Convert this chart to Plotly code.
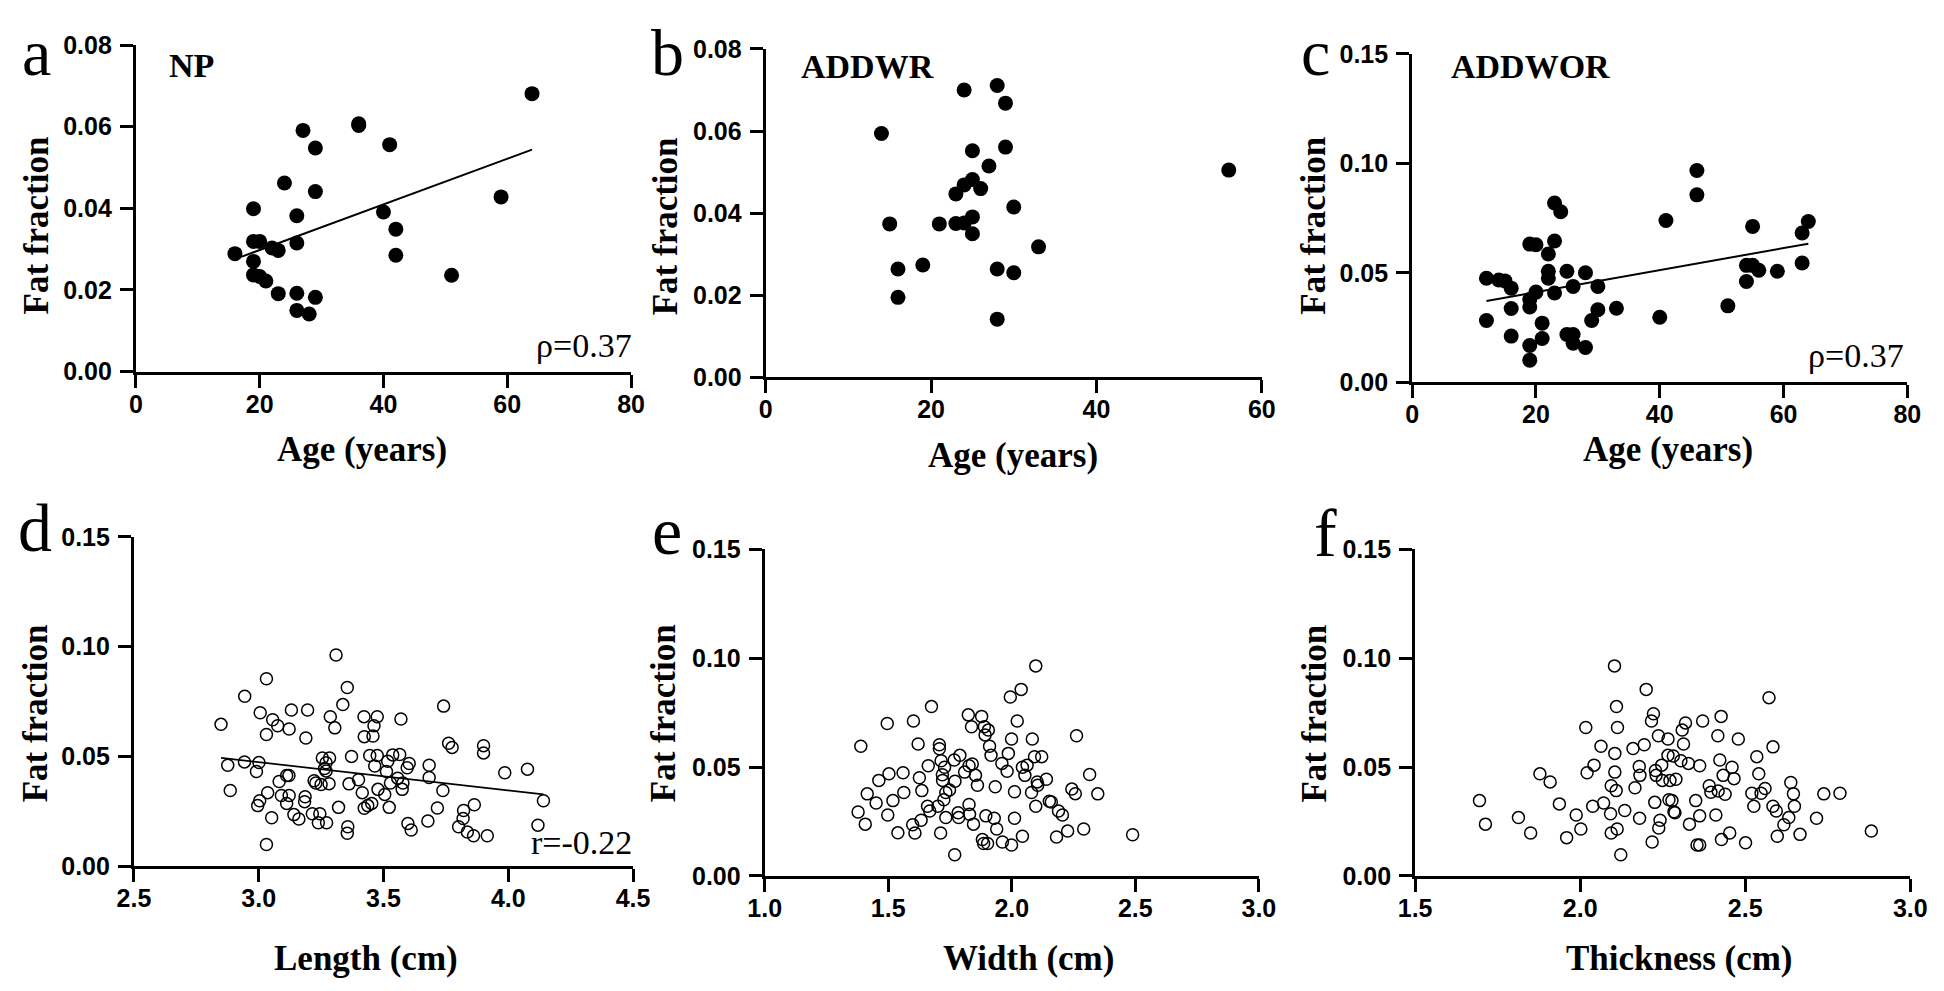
import plotly.graph_objects as go

# ---------------- data ----------------
# (a) NP
age_np = [16, 19, 19, 20, 19, 19, 20, 21, 22, 23,
          23, 24, 26, 26, 26, 26, 27, 28, 29, 29,
          29, 36, 36, 40, 41, 42, 42, 51, 59, 64]
ff_np = [0.0289, 0.0399, 0.0319, 0.0319, 0.0270, 0.0237, 0.0233, 0.0222, 0.0303, 0.0297,
         0.0191, 0.0462, 0.0382, 0.0315, 0.0192, 0.0150, 0.0591, 0.0141, 0.0548, 0.0441,
         0.0182, 0.0603, 0.0607, 0.0391, 0.0556, 0.0349, 0.0285, 0.0236, 0.0428, 0.0681]
fit_np_x = [17, 64]
fit_np_y = [0.0281, 0.0544]

# (b) ADDWR
age_addwr = [14, 15, 16, 16, 19, 21, 23, 23, 24, 24,
             24, 25, 25, 25, 25, 26, 27, 28, 28, 28,
             29, 29, 30, 30, 33, 56]
ff_addwr = [0.0594, 0.0374, 0.0264, 0.0195, 0.0274, 0.0374, 0.0447, 0.0375, 0.0700, 0.0469,
            0.0376, 0.0391, 0.0350, 0.0552, 0.0482, 0.0460, 0.0515, 0.0711, 0.0264, 0.0142,
            0.0668, 0.0561, 0.0415, 0.0255, 0.0318, 0.0505]

# (c) ADDWOR
age_addwor = [12, 12, 14, 15, 16, 16, 16, 19, 19, 19,
              19, 19, 20, 20, 21, 21, 22, 22, 22, 23,
              23, 23, 24, 25, 25, 26, 26, 26, 28, 28,
              29, 30, 30, 33, 40, 41, 46, 46, 51, 54,
              54, 55, 55, 56, 59, 63, 63, 64]
ff_addwor = [0.0475, 0.0282, 0.0467, 0.0463, 0.0430, 0.0337, 0.0211, 0.0631, 0.0378, 0.0344,
             0.0168, 0.0101, 0.0628, 0.0412, 0.0270, 0.0200, 0.0586, 0.0507, 0.0475, 0.0819,
             0.0645, 0.0408, 0.0779, 0.0507, 0.0218, 0.0438, 0.0218, 0.0178, 0.0500, 0.0159,
             0.0282, 0.0438, 0.0331, 0.0338, 0.0297, 0.0739, 0.0967, 0.0856, 0.0349, 0.0460,
             0.0534, 0.0712, 0.0534, 0.0512, 0.0507, 0.0545, 0.0682, 0.0734]
fit_addwor_x = [12, 64]
fit_addwor_y = [0.0371, 0.0633]

# (d) Length
length_cm = [2.849, 2.876, 2.886, 2.944, 2.943, 2.991, 3.006, 3.001, 2.996, 3.004,
             3.031, 3.031, 3.036, 3.052, 3.056, 3.076, 3.082, 3.091, 3.112, 3.121,
             3.112, 3.122, 3.122, 3.131, 3.141, 3.161, 3.189, 3.186, 3.184, 3.196,
             3.031, 3.215, 3.222, 3.229, 3.239, 3.245, 3.250, 3.255, 3.264, 3.270,
             3.270, 3.272, 3.282, 3.284, 3.287, 3.305, 3.310, 3.320, 3.337, 3.355,
             3.357, 3.355, 3.362, 3.372, 3.400, 3.415, 3.422, 3.423, 3.423, 3.437,
             3.445, 3.453, 3.458, 3.462, 3.465, 3.475, 3.475, 3.478, 3.505, 3.512,
             3.517, 3.523, 3.528, 3.537, 3.557, 3.565, 3.570, 3.575, 3.578, 3.595,
             3.603, 3.598, 3.611, 3.678, 3.683, 3.683, 3.716, 3.738, 3.741, 3.761,
             3.775, 3.801, 3.819, 3.821, 3.836, 3.861, 3.864, 3.901, 3.901, 3.916,
             3.986, 4.077, 4.119, 4.141]
ff_length = [0.0646, 0.0460, 0.0345, 0.0774, 0.0475, 0.0431, 0.0699, 0.0472, 0.0276, 0.0298,
             0.0854, 0.0600, 0.0335, 0.0221, 0.0667, 0.0640, 0.0386, 0.0322, 0.0413, 0.0413,
             0.0286, 0.0322, 0.0625, 0.0711, 0.0235, 0.0215, 0.0584, 0.0316, 0.0294, 0.0711,
             0.0099, 0.0239, 0.0389, 0.0379, 0.0198, 0.0239, 0.0372, 0.0493, 0.0445, 0.0471,
             0.0434, 0.0198, 0.0376, 0.0493, 0.0681, 0.0630, 0.0962, 0.0268, 0.0736, 0.0814,
             0.0180, 0.0150, 0.0375, 0.0500, 0.0394, 0.0335, 0.0681, 0.0590, 0.0264, 0.0276,
             0.0504, 0.0286, 0.0593, 0.0640, 0.0456, 0.0681, 0.0504, 0.0350, 0.0327, 0.0431,
             0.0478, 0.0268, 0.0379, 0.0507, 0.0401, 0.0509, 0.0670, 0.0350, 0.0379, 0.0448,
             0.0468, 0.0195, 0.0165, 0.0206, 0.0460, 0.0404, 0.0265, 0.0345, 0.0729, 0.0560,
             0.0541, 0.0180, 0.0217, 0.0254, 0.0156, 0.0139, 0.0280, 0.0549, 0.0516, 0.0139,
             0.0426, 0.0442, 0.0187, 0.0298]
fit_length_x = [2.849, 4.141]
fit_length_y = [0.0493, 0.0327]

# (e) Width
width_cm = [1.389, 1.407, 1.378, 1.415, 1.451, 1.462, 1.496, 1.503, 1.498, 1.519,
            1.539, 1.560, 1.563, 1.599, 1.602, 1.608, 1.621, 1.626, 1.633, 1.636,
            1.659, 1.662, 1.668, 1.675, 1.701, 1.707, 1.707, 1.712, 1.714, 1.719,
            1.720, 1.725, 1.728, 1.733, 1.733, 1.748, 1.767, 1.770, 1.769, 1.783,
            1.785, 1.790, 1.809, 1.824, 1.827, 1.827, 1.829, 1.837, 1.840, 1.845,
            1.853, 1.861, 1.878, 1.881, 1.886, 1.889, 1.892, 1.895, 1.905, 1.910,
            1.916, 1.902, 1.929, 1.933, 1.939, 1.960, 1.962, 1.981, 1.986, 1.994,
            1.999, 1.999, 2.011, 2.011, 2.022, 2.043, 2.038, 2.043, 2.053, 2.062,
            2.080, 2.083, 2.092, 2.097, 2.097, 2.103, 2.105, 2.121, 2.140, 2.152,
            2.160, 2.181, 2.189, 2.205, 2.226, 2.243, 2.257, 2.262, 2.291, 2.315,
            2.348, 2.489]
ff_width = [0.0596, 0.0238, 0.0294, 0.0377, 0.0335, 0.0439, 0.0700, 0.0469, 0.0280, 0.0346,
            0.0198, 0.0474, 0.0383, 0.0235, 0.0712, 0.0197, 0.0606, 0.0451, 0.0256, 0.0392,
            0.0320, 0.0506, 0.0298, 0.0778, 0.0320, 0.0603, 0.0584, 0.0197, 0.0529, 0.0465,
            0.0439, 0.0350, 0.0499, 0.0383, 0.0268, 0.0395, 0.0533, 0.0435, 0.0097, 0.0290,
            0.0268, 0.0554, 0.0477, 0.0740, 0.0506, 0.0328, 0.0283, 0.0685, 0.0514, 0.0238,
            0.0462, 0.0417, 0.0733, 0.0167, 0.0149, 0.0685, 0.0648, 0.0276, 0.0670, 0.0596,
            0.0554, 0.0149, 0.0265, 0.0410, 0.0216, 0.0517, 0.0156, 0.0481, 0.0563, 0.0822,
            0.0142, 0.0629, 0.0387, 0.0265, 0.0712, 0.0182, 0.0857, 0.0499, 0.0462, 0.0509,
            0.0383, 0.0629, 0.0548, 0.0965, 0.0320, 0.0432, 0.0417, 0.0548, 0.0444, 0.0343,
            0.0340, 0.0179, 0.0298, 0.0280, 0.0206, 0.0399, 0.0378, 0.0644, 0.0216, 0.0466,
            0.0377, 0.0189]

# (f) Thickness
thick_cm = [1.695, 1.713, 1.813, 1.850, 1.878, 1.909, 1.937, 1.959, 1.988, 2.002,
            2.017, 2.021, 2.038, 2.042, 2.063, 2.071, 2.092, 2.094, 2.094, 2.104,
            2.105, 2.105, 2.109, 2.110, 2.112, 2.113, 2.123, 2.135, 2.160, 2.166,
            2.179, 2.180, 2.181, 2.194, 2.200, 2.216, 2.218, 2.222, 2.226, 2.228,
            2.230, 2.237, 2.238, 2.242, 2.247, 2.249, 2.266, 2.266, 2.269, 2.272,
            2.278, 2.282, 2.284, 2.287, 2.290, 2.305, 2.309, 2.313, 2.319, 2.328,
            2.331, 2.350, 2.354, 2.362, 2.362, 2.362, 2.371, 2.391, 2.396, 2.411,
            2.417, 2.418, 2.423, 2.427, 2.428, 2.433, 2.439, 2.453, 2.460, 2.466,
            2.479, 2.501, 2.520, 2.526, 2.535, 2.541, 2.548, 2.560, 2.572, 2.584,
            2.584, 2.594, 2.597, 2.617, 2.632, 2.638, 2.646, 2.649, 2.666, 2.716,
            2.738, 2.787, 2.882]
ff_thick = [0.0346, 0.0238, 0.0268, 0.0197, 0.0469, 0.0432, 0.0331, 0.0176, 0.0280, 0.0216,
            0.0682, 0.0474, 0.0320, 0.0509, 0.0596, 0.0335, 0.0286, 0.0414, 0.0197, 0.0965,
            0.0563, 0.0477, 0.0392, 0.0778, 0.0216, 0.0682, 0.0097, 0.0301, 0.0585, 0.0405,
            0.0503, 0.0265, 0.0462, 0.0603, 0.0857, 0.0712, 0.0156, 0.0745, 0.0338, 0.0484,
            0.0462, 0.0644, 0.0220, 0.0256, 0.0509, 0.0439, 0.0629, 0.0554, 0.0350, 0.0439,
            0.0346, 0.0551, 0.0295, 0.0290, 0.0444, 0.0529, 0.0670, 0.0606, 0.0703, 0.0517,
            0.0238, 0.0346, 0.0142, 0.0142, 0.0276, 0.0506, 0.0712, 0.0414, 0.0384, 0.0280,
            0.0644, 0.0390, 0.0533, 0.0733, 0.0167, 0.0462, 0.0375, 0.0197, 0.0499, 0.0447,
            0.0629, 0.0152, 0.0380, 0.0320, 0.0548, 0.0469, 0.0380, 0.0402, 0.0819, 0.0320,
            0.0593, 0.0298, 0.0182, 0.0235, 0.0268, 0.0429, 0.0377, 0.0320, 0.0191, 0.0265,
            0.0377, 0.0380, 0.0206]

# tick values
ff_ticks_small = [0.00, 0.02, 0.04, 0.06, 0.08]
ff_ticks_large = [0.00, 0.05, 0.10, 0.15]
age_ticks_80 = [0, 20, 40, 60, 80]
age_ticks_60 = [0, 20, 40, 60]
length_ticks = [2.5, 3.0, 3.5, 4.0, 4.5]
width_ticks = [1.0, 1.5, 2.0, 2.5, 3.0]
thick_ticks = [1.5, 2.0, 2.5, 3.0]

# ---------------- figure ----------------
W, H = 1944, 991


def px_x(p):
    return p / W


def px_y(p):
    return 1 - p / H


TICKFONT = dict(family="Liberation Sans", size=25, color="black", weight="bold")


def make_axis(dom, rng, vals, fmt, anchor, standoff):
    return dict(domain=dom, range=rng, tickmode="array", tickvals=vals,
                ticktext=[format(v, fmt) for v in vals],
                showline=True, linewidth=3, linecolor="black",
                ticks="outside", ticklen=13, tickwidth=3, tickcolor="black",
                ticklabelstandoff=standoff,
                showgrid=False, zeroline=False, tickfont=TICKFONT,
                anchor=anchor, fixedrange=True)


# pixel boxes (left, right, top, bottom)
boxes = {
    1: (121, 625, 32, 368),
    2: (762, 1267, 36, 374),
    3: (1420, 1924, 41, 379),
    4: (119, 627, 538, 877),
    5: (761, 1264, 551, 887),
    6: (1423, 1927, 551, 887),
}
xspec = {1: ([0, 80], age_ticks_80, "d"), 2: ([0, 60], age_ticks_60, "d"),
         3: ([0, 80], age_ticks_80, "d"), 4: ([2.5, 4.5], length_ticks, ".1f"),
         5: ([1.0, 3.0], width_ticks, ".1f"), 6: ([1.5, 3.0], thick_ticks, ".1f")}
yspec = {1: ([0, 0.08], ff_ticks_small), 2: ([0, 0.08], ff_ticks_small),
         3: ([0, 0.15], ff_ticks_large), 4: ([0, 0.15], ff_ticks_large),
         5: ([0, 0.15], ff_ticks_large), 6: ([0, 0.15], ff_ticks_large)}

fig = go.Figure()
layout = dict(width=W, height=H, margin=dict(l=0, r=0, t=0, b=0),
              paper_bgcolor="white", plot_bgcolor="white", showlegend=False)
for i in range(1, 7):
    l, r, t, b = boxes[i]
    sx = "" if i == 1 else str(i)
    xr, xv, xf = xspec[i]
    yr, yv = yspec[i]
    layout["xaxis" + sx] = make_axis([px_x(l), px_x(r)], xr, xv, xf, "y" + sx, -5)
    layout["yaxis" + sx] = make_axis([px_y(b), px_y(t)], yr, yv, ".2f", "x" + sx, 3)
fig.update_layout(**layout)

filled = dict(symbol="circle", size=15, color="black", line=dict(width=0))
hollow = dict(symbol="circle-open", size=12, color="black", line=dict(width=1.5, color="black"))

series = [
    (1, age_np, ff_np, filled), (2, age_addwr, ff_addwr, filled),
    (3, age_addwor, ff_addwor, filled), (4, length_cm, ff_length, hollow),
    (5, width_cm, ff_width, hollow), (6, thick_cm, ff_thick, hollow),
]
for i, xs, ys, mk in series:
    sx = "" if i == 1 else str(i)
    fig.add_trace(go.Scatter(x=xs, y=ys, mode="markers", marker=mk,
                             xaxis="x" + sx, yaxis="y" + sx, cliponaxis=False))

fits = [(1, fit_np_x, fit_np_y, 2), (3, fit_addwor_x, fit_addwor_y, 2),
        (4, fit_length_x, fit_length_y, 1.8)]
for i, xs, ys, w in fits:
    sx = "" if i == 1 else str(i)
    fig.add_trace(go.Scatter(x=xs, y=ys, mode="lines", line=dict(color="black", width=w),
                             xaxis="x" + sx, yaxis="y" + sx))

SERIF = "Liberation Serif"


def ann(text, x, y, size, bold=False, angle=0, xanchor="center", yanchor="middle"):
    fig.add_annotation(text=text, x=px_x(x), y=px_y(y), xref="paper", yref="paper",
                       showarrow=False, textangle=angle, xanchor=xanchor, yanchor=yanchor,
                       borderpad=0,
                       font=dict(family=SERIF, size=size, color="black",
                                 weight="bold" if bold else "normal"))


# panel letters (top row kept fully inside the page)
for txt, x in [("a", 20), ("b", 662), ("c", 1322)]:
    ann(txt, x, 1, 66, yanchor="top")
for txt, x, y in [("d", 18, 529), ("e", 662, 532), ("f", 1332, 534)]:
    ann(txt, x, y, 68)

# y titles
for x, y in [(20, 218), (660, 218), (1320, 218), (19, 720), (658, 719), (1321, 720)]:
    ann("Fat fraction", x, y, 35, bold=True, angle=-90)

# x titles
for txt, x, y in [("Age (years)", 351, 448), ("Age (years)", 1014, 454),
                  ("Age (years)", 1680, 448), ("Length (cm)", 355, 972),
                  ("Width (cm)", 1030, 972), ("Thickness (cm)", 1692, 972)]:
    ann(txt, x, y, 35, bold=True)

# group labels
ann("NP", 154, 53, 34, bold=True, xanchor="left")
ann("ADDWR", 797, 54, 34, bold=True, xanchor="left")
ann("ADDWOR", 1459, 54, 34, bold=True, xanchor="left")

# correlation labels
ann("ρ=0.37", 627, 341, 34, xanchor="right")
ann("ρ=0.37", 1922, 351, 34, xanchor="right")
ann("r=-0.22", 627, 853, 34, xanchor="right")

fig.write_html("out.html", config={"displayModeBar": False},
               post_script="document.body.style.margin='0';document.body.style.padding='0';")
